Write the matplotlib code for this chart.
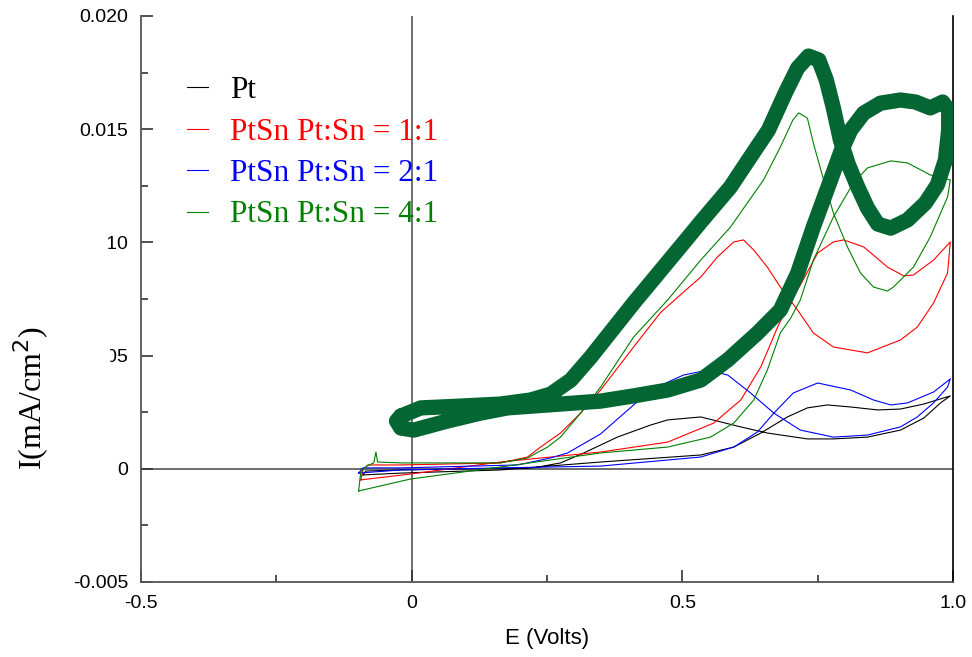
import numpy as np
import matplotlib
matplotlib.use("Agg")
import matplotlib.pyplot as plt
from matplotlib.patches import Polygon

# cyclic voltammograms, each list is one closed loop (E in V, I in mA/cm2)
pt_E = [-0.090, -0.020, 0.164, 0.349, 0.534, 0.595, 0.645, 0.694, 0.731, 0.768, 0.811, 0.861, 0.903, 0.946, 0.995,
        0.977, 0.946, 0.903, 0.842, 0.779, 0.731, 0.657, 0.608, 0.534, 0.473, 0.441, 0.380, 0.318, 0.275, 0.225,
        -0.020, -0.085, -0.090]
pt_I = [-0.00027, -0.00019, -0.00005, 0.00030, 0.00061, 0.00096, 0.00158, 0.00229, 0.00269, 0.00282, 0.00273,
        0.00260, 0.00264, 0.00286, 0.00322,
        0.00291, 0.00224, 0.00171, 0.00140, 0.00132, 0.00132, 0.00158, 0.00185, 0.00229, 0.00216, 0.00193,
        0.00140, 0.00070, 0.00026, 0.00004, -0.00005, -0.00010, -0.00027]

r11_E = [-0.094, -0.002, 0.164, 0.349, 0.473, 0.558, 0.608, 0.645, 0.676, 0.694, 0.718, 0.750, 0.779, 0.798, 0.835,
         0.879, 0.909, 0.927, 0.964, 0.995,
         0.990, 0.964, 0.934, 0.903, 0.842, 0.779, 0.742, 0.713, 0.681, 0.657, 0.632, 0.613, 0.595, 0.565, 0.534,
         0.502, 0.460, 0.410, 0.349, 0.312, 0.275, 0.238, 0.214, 0.164, -0.020, -0.081, -0.090, -0.094]
r11_I = [-0.00049, -0.00023, 0.00030, 0.00074, 0.00118, 0.00202, 0.00304, 0.00450, 0.00626, 0.00715, 0.00812,
         0.00953, 0.01002, 0.01011, 0.00980, 0.00891, 0.00852, 0.00856, 0.00922, 0.01002,
         0.00865, 0.00732, 0.00626, 0.00569, 0.00512, 0.00538, 0.00600, 0.00701, 0.00803, 0.00891, 0.00966,
         0.01011, 0.01002, 0.00936, 0.00847, 0.00780, 0.00691, 0.00538, 0.00348, 0.00246, 0.00158, 0.00096,
         0.00052, 0.00026, 0.00017, 0.00017, -0.00005, -0.00049]

r21_E = [-0.098, -0.020, 0.164, 0.349, 0.534, 0.595, 0.639, 0.669, 0.705, 0.750, 0.811, 0.853, 0.885, 0.916, 0.964,
         0.995,
         0.990, 0.964, 0.934, 0.903, 0.842, 0.779, 0.718, 0.669, 0.626, 0.584, 0.547, 0.502, 0.441, 0.410, 0.349,
         0.288, 0.257, 0.196, -0.020, -0.090, -0.098]
r21_I = [-0.00019, -0.00005, 0.00004, 0.00012, 0.00052, 0.00096, 0.00163, 0.00246, 0.00335, 0.00379, 0.00348,
         0.00304, 0.00282, 0.00291, 0.00339, 0.00397,
         0.00361, 0.00291, 0.00229, 0.00185, 0.00149, 0.00140, 0.00171, 0.00246, 0.00335, 0.00414, 0.00436,
         0.00414, 0.00348, 0.00282, 0.00154, 0.00070, 0.00048, 0.00017, 0.00004, 0.00004, -0.00019]

r41_E = [-0.098, -0.002, 0.164, 0.349, 0.473, 0.552, 0.595, 0.632, 0.657, 0.681, 0.700, 0.718, 0.742, 0.779, 0.816,
         0.842, 0.885, 0.916, 0.958, 0.995,
         0.990, 0.958, 0.927, 0.890, 0.879, 0.853, 0.829, 0.805, 0.779, 0.761, 0.742, 0.731, 0.715, 0.704, 0.681,
         0.650, 0.589, 0.534, 0.473, 0.410, 0.349, 0.312, 0.275, 0.251, 0.214, 0.164, -0.020, -0.063, -0.066,
         -0.070, -0.083, -0.094, -0.098]
r41_I = [-0.00098, -0.00045, 0.00008, 0.00070, 0.00096, 0.00140, 0.00202, 0.00304, 0.00436, 0.00600, 0.00665,
         0.00746, 0.00922, 0.01112, 0.01262, 0.01329, 0.01360, 0.01351, 0.01298, 0.01276,
         0.01201, 0.01024, 0.00891, 0.00803, 0.00785, 0.00803, 0.00865, 0.00980, 0.01130, 0.01276, 0.01439,
         0.01549, 0.01572, 0.01540, 0.01421, 0.01276, 0.01068, 0.00922, 0.00746, 0.00582, 0.00361, 0.00246,
         0.00140, 0.00096, 0.00048, 0.00026, 0.00026, 0.00030, 0.00074, 0.00026, 0.00012, -0.00014, -0.00098]

# thick hand-drawn highlight loop
hl_E = [-0.020, 0.017, 0.090, 0.164, 0.220, 0.257, 0.294, 0.331, 0.410, 0.502, 0.534, 0.589, 0.622, 0.659, 0.691,
        0.713, 0.733, 0.752, 0.766, 0.779, 0.792, 0.807, 0.824, 0.842, 0.861, 0.885, 0.916, 0.949, 0.971, 0.986,
        0.992, 0.992, 0.981, 0.958, 0.931, 0.903, 0.866, 0.835, 0.811, 0.792, 0.774, 0.742, 0.713, 0.681, 0.639,
        0.584, 0.534, 0.473, 0.410, 0.349, 0.275, 0.177, 0.127, 0.066, 0.004, -0.020, -0.028, -0.020]
hl_I = [0.00233, 0.00269, 0.00277, 0.00286, 0.00304, 0.00330, 0.00392, 0.00494, 0.00732, 0.00997, 0.01090,
        0.01245, 0.01364, 0.01496, 0.01664, 0.01770, 0.01823, 0.01806, 0.01717, 0.01594, 0.01452, 0.01342,
        0.01245, 0.01152, 0.01081, 0.01063, 0.01099, 0.01174, 0.01254, 0.01364, 0.01496, 0.01584, 0.01620,
        0.01594, 0.01620, 0.01629, 0.01615, 0.01571, 0.01496, 0.01395, 0.01276, 0.01068, 0.00864, 0.00701,
        0.00600, 0.00481, 0.00392, 0.00348, 0.00322, 0.00299, 0.00286, 0.00269, 0.00246, 0.00211, 0.00171,
        0.00180, 0.00211, 0.00233]

series = [
    (pt_E, pt_I, "black", "Pt"),
    (r11_E, r11_I, "#ff0000", "PtSn Pt:Sn = 1:1"),
    (r21_E, r21_I, "#0000ff", "PtSn Pt:Sn = 2:1"),
    (r41_E, r41_I, "#008000", "PtSn Pt:Sn = 4:1"),
]

W, H = 972, 657
fig = plt.figure(figsize=(W / 100, H / 100), dpi=100)
ax = fig.add_axes([141 / W, 1 - 582 / H, (953 - 141) / W, (582 - 16) / H])

ax.axhline(0, color="#555555", lw=1.2, zorder=1)
ax.axvline(0, color="#555555", lw=1.2, zorder=1)

for e, i, c, lab in series:
    ax.plot(e, i, color=c, lw=0.8, label=lab, zorder=2)

ax.plot(hl_E, hl_I, color="#036633", lw=11, solid_joinstyle="round", solid_capstyle="round", zorder=3)

ax.set_xlim(-0.5, 1.0)
ax.set_ylim(-0.005, 0.020)
ax.set_xticks([-0.5, 0, 0.5, 1.0])
ax.set_xticklabels(["-0.5", "0", "0.5", "1.0"])
ax.set_xticks([-0.25, 0.25, 0.75], minor=True)
ax.set_yticks([-0.005, 0, 0.005, 0.010, 0.015, 0.020])
ax.set_yticklabels(["-0.005", "0", "0.005", "0.010", "0.015", "0.020"])
ax.set_yticks([-0.0025, 0.0025, 0.0075, 0.0125, 0.0175], minor=True)
ax.tick_params(which="both", direction="in", color="#333333", width=1.2, labelsize=14, pad=9)
ax.tick_params(which="major", length=8.5)
ax.tick_params(which="minor", length=5)
for t in ax.get_xticklabels() + ax.get_yticklabels():
    t.set_fontfamily("Liberation Sans")

ax.spines["top"].set_visible(False)
for s in ["left", "bottom"]:
    ax.spines[s].set_color("#555555")
    ax.spines[s].set_linewidth(1.3)
ax.spines["right"].set_color("black")
ax.spines["right"].set_linewidth(1.2)

ax.set_xlabel("E (Volts)", fontsize=16, family="Liberation Sans", labelpad=12)
ax.set_ylabel(r"I(mA/cm$^2$)", fontsize=23, family="Liberation Serif")
ax.yaxis.set_label_coords((51 - 141) / 812, (582 - 398) / 566)

leg = ax.legend(loc="upper left", bbox_to_anchor=((187 - 141) / 812, (582 - 76) / 566),
                frameon=False, borderpad=0, borderaxespad=0, handlelength=0.68,
                handletextpad=0.7, labelspacing=0.40, labelcolor="linecolor",
                prop={"family": "Liberation Serif", "size": 22.5})

# white patch hiding part of two tick labels, as in the source figure
cover = Polygon([(52 / W, 1 - 200 / H), (107.5 / W, 1 - 200 / H), (111 / W, 1 - 400 / H), (52 / W, 1 - 400 / H)],
                closed=True, transform=fig.transFigure, facecolor="white", edgecolor="none", zorder=5)
fig.patches.append(cover)

fig.savefig("out.png", dpi=100)
